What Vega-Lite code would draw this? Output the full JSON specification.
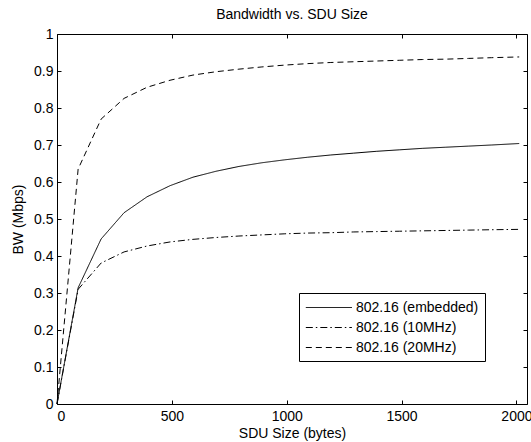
{
  "$schema": "https://vega.github.io/schema/vega-lite/v6.json",
  "width": 470,
  "height": 370,
  "autosize": {"type": "none"},
  "padding": {"left": 57, "top": 34, "right": 4, "bottom": 38},
  "background": "white",
  "title": {"text": "Bandwidth vs. SDU Size", "fontSize": 14, "fontWeight": "normal", "font": "Liberation Sans", "offset": 5, "color": "black"},
  "config": {"view": {"stroke": null}, "font": "Liberation Sans"},
  "data": {"values": [
    {"series": "802.16 (embedded)", "size": 0, "bw": 0},
    {"series": "802.16 (embedded)", "size": 92, "bw": 0.314},
    {"series": "802.16 (embedded)", "size": 192, "bw": 0.446},
    {"series": "802.16 (embedded)", "size": 292, "bw": 0.517},
    {"series": "802.16 (embedded)", "size": 392, "bw": 0.560},
    {"series": "802.16 (embedded)", "size": 492, "bw": 0.590},
    {"series": "802.16 (embedded)", "size": 592, "bw": 0.613},
    {"series": "802.16 (embedded)", "size": 692, "bw": 0.629},
    {"series": "802.16 (embedded)", "size": 792, "bw": 0.642},
    {"series": "802.16 (embedded)", "size": 892, "bw": 0.652},
    {"series": "802.16 (embedded)", "size": 992, "bw": 0.660},
    {"series": "802.16 (embedded)", "size": 1092, "bw": 0.667},
    {"series": "802.16 (embedded)", "size": 1192, "bw": 0.673},
    {"series": "802.16 (embedded)", "size": 1292, "bw": 0.678},
    {"series": "802.16 (embedded)", "size": 1392, "bw": 0.683},
    {"series": "802.16 (embedded)", "size": 1492, "bw": 0.687},
    {"series": "802.16 (embedded)", "size": 1592, "bw": 0.691},
    {"series": "802.16 (embedded)", "size": 1692, "bw": 0.694},
    {"series": "802.16 (embedded)", "size": 1792, "bw": 0.697},
    {"series": "802.16 (embedded)", "size": 1892, "bw": 0.700},
    {"series": "802.16 (embedded)", "size": 2012, "bw": 0.704},
    {"series": "802.16 (10MHz)", "size": 0, "bw": 0},
    {"series": "802.16 (10MHz)", "size": 92, "bw": 0.310},
    {"series": "802.16 (10MHz)", "size": 192, "bw": 0.381},
    {"series": "802.16 (10MHz)", "size": 292, "bw": 0.411},
    {"series": "802.16 (10MHz)", "size": 392, "bw": 0.427},
    {"series": "802.16 (10MHz)", "size": 492, "bw": 0.438},
    {"series": "802.16 (10MHz)", "size": 592, "bw": 0.445},
    {"series": "802.16 (10MHz)", "size": 692, "bw": 0.450},
    {"series": "802.16 (10MHz)", "size": 792, "bw": 0.454},
    {"series": "802.16 (10MHz)", "size": 892, "bw": 0.457},
    {"series": "802.16 (10MHz)", "size": 992, "bw": 0.460},
    {"series": "802.16 (10MHz)", "size": 1092, "bw": 0.462},
    {"series": "802.16 (10MHz)", "size": 1192, "bw": 0.463},
    {"series": "802.16 (10MHz)", "size": 1292, "bw": 0.465},
    {"series": "802.16 (10MHz)", "size": 1392, "bw": 0.466},
    {"series": "802.16 (10MHz)", "size": 1492, "bw": 0.467},
    {"series": "802.16 (10MHz)", "size": 1592, "bw": 0.468},
    {"series": "802.16 (10MHz)", "size": 1692, "bw": 0.469},
    {"series": "802.16 (10MHz)", "size": 1792, "bw": 0.470},
    {"series": "802.16 (10MHz)", "size": 1892, "bw": 0.471},
    {"series": "802.16 (10MHz)", "size": 2012, "bw": 0.472},
    {"series": "802.16 (20MHz)", "size": 0, "bw": 0},
    {"series": "802.16 (20MHz)", "size": 92, "bw": 0.635},
    {"series": "802.16 (20MHz)", "size": 192, "bw": 0.770},
    {"series": "802.16 (20MHz)", "size": 292, "bw": 0.826},
    {"series": "802.16 (20MHz)", "size": 392, "bw": 0.856},
    {"series": "802.16 (20MHz)", "size": 492, "bw": 0.875},
    {"series": "802.16 (20MHz)", "size": 592, "bw": 0.889},
    {"series": "802.16 (20MHz)", "size": 692, "bw": 0.898},
    {"series": "802.16 (20MHz)", "size": 792, "bw": 0.905},
    {"series": "802.16 (20MHz)", "size": 892, "bw": 0.911},
    {"series": "802.16 (20MHz)", "size": 992, "bw": 0.916},
    {"series": "802.16 (20MHz)", "size": 1092, "bw": 0.920},
    {"series": "802.16 (20MHz)", "size": 1192, "bw": 0.923},
    {"series": "802.16 (20MHz)", "size": 1292, "bw": 0.925},
    {"series": "802.16 (20MHz)", "size": 1392, "bw": 0.927},
    {"series": "802.16 (20MHz)", "size": 1492, "bw": 0.929},
    {"series": "802.16 (20MHz)", "size": 1592, "bw": 0.931},
    {"series": "802.16 (20MHz)", "size": 1692, "bw": 0.932},
    {"series": "802.16 (20MHz)", "size": 1792, "bw": 0.934},
    {"series": "802.16 (20MHz)", "size": 1892, "bw": 0.936},
    {"series": "802.16 (20MHz)", "size": 2012, "bw": 0.938}
  ]},
  "layer": [
    {
      "mark": {"type": "line", "color": "black", "strokeWidth": 1},
      "encoding": {
        "x": {"field": "size", "type": "quantitative",
          "scale": {"domain": [0, 2046], "nice": false, "zero": false},
          "axis": {"orient": "bottom", "values": [0, 500, 1000, 1500, 2000], "format": "d", "grid": false,
            "tickSize": -4, "tickColor": "black", "domainColor": "black", "domainWidth": 1,
            "labelPadding": 9, "labelFontSize": 14, "labelColor": "black", "labelFont": "Liberation Sans",
            "title": "SDU Size (bytes)", "titleFontSize": 14, "titleFontWeight": "normal", "titleColor": "black",
            "titleFont": "Liberation Sans", "titlePadding": 3}},
        "y": {"field": "bw", "type": "quantitative",
          "scale": {"domain": [0, 1], "nice": false, "zero": false},
          "axis": {"orient": "left", "values": [0, 0.1, 0.2, 0.3, 0.4, 0.5, 0.6, 0.7, 0.8, 0.9, 1], "format": "~g", "grid": false,
            "tickSize": -4, "tickColor": "black", "domainColor": "black", "domainWidth": 1,
            "labelPadding": 8, "labelFontSize": 14, "labelColor": "black", "labelFont": "Liberation Sans",
            "title": "BW (Mbps)", "titleFontSize": 14, "titleFontWeight": "normal", "titleColor": "black",
            "titleFont": "Liberation Sans", "titlePadding": 8}},
        "strokeDash": {"field": "series", "type": "nominal",
          "scale": {"domain": ["802.16 (embedded)", "802.16 (10MHz)", "802.16 (20MHz)"],
            "range": [[1, 0], [7, 3, 1.5, 3], [6, 4]]},
          "legend": {"orient": "none", "legendX": 242, "legendY": 259, "title": null,
            "strokeColor": "black", "fillColor": "white", "padding": 6,
            "symbolType": "M-1,0H5", "symbolSize": 236, "symbolStrokeWidth": 1, "symbolStrokeColor": "black",
            "labelFontSize": 14, "labelFont": "Liberation Sans", "labelColor": "black", "labelOffset": 34, "rowPadding": 4}}
      }
    },
    {
      "mark": {"type": "point", "opacity": 0},
      "encoding": {
        "x": {"field": "size", "type": "quantitative",
          "scale": {"domain": [0, 2046], "nice": false, "zero": false},
          "axis": {"orient": "top", "values": [0, 500, 1000, 1500, 2000], "labels": false, "title": null, "grid": false,
            "tickSize": -4, "tickColor": "black", "domainColor": "black", "domainWidth": 1}},
        "y": {"field": "bw", "type": "quantitative",
          "scale": {"domain": [0, 1], "nice": false, "zero": false},
          "axis": {"orient": "right", "values": [0, 0.1, 0.2, 0.3, 0.4, 0.5, 0.6, 0.7, 0.8, 0.9, 1], "labels": false, "title": null, "grid": false,
            "tickSize": -4, "tickColor": "black", "domainColor": "black", "domainWidth": 1}}
      }
    }
  ],
  "resolve": {"axis": {"x": "independent", "y": "independent"}}
}
